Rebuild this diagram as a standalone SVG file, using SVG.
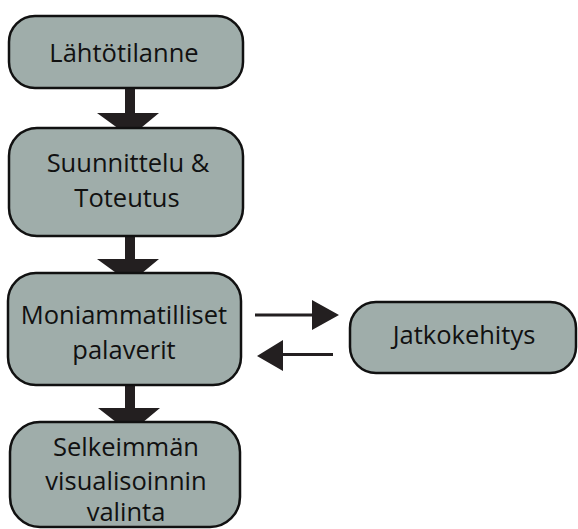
<svg xmlns="http://www.w3.org/2000/svg" width="578" height="529" viewBox="0 0 578 529">
<style>
.box{fill:#9fadaa;stroke:#111;stroke-width:2.5}
.t{font-family:"Open Sans","Noto Sans",sans-serif;font-size:25.5px;fill:#111;text-anchor:middle}
.ar{fill:#231f20}
</style>
<rect width="578" height="529" fill="#fff"/>
<g id="connectors">
<path class="ar" d="M125,88 H135 V113 H159 L130,137 L97,113 H125 Z"/>
<path class="ar" d="M125,236 H135 V259 H159 L130,283 L97,259 H125 Z"/>
<path class="ar" d="M125,385 H135 V408 H160 L130,433 L98,408 H125 Z"/>
<path class="ar" d="M255,313.5 H312 V300 L339,315 L312,330 V316.5 H255 Z"/>
<path class="ar" d="M333,353 H283 V340 L257,356 L283,371 V356 H333 Z"/>
</g>
<g id="n1"><rect class="box" x="9" y="16" width="234" height="72" rx="26"/><text class="t" x="124" y="62">Lähtötilanne</text></g>
<g id="n2"><rect class="box" x="9" y="128" width="234" height="108" rx="28"/><text class="t" x="128" y="172">Suunnittelu &amp;</text><text class="t" x="127" y="207">Toteutus</text></g>
<g id="n3"><rect class="box" x="8" y="273" width="233" height="112" rx="28"/><text class="t" x="124" y="324">Moniammatilliset</text><text class="t" x="124" y="359">palaverit</text></g>
<g id="n4"><rect class="box" x="10" y="422" width="230" height="105" rx="30"/><text class="t" x="126" y="456">Selkeimmän</text><text class="t" x="126" y="490">visualisoinnin</text><text class="t" x="126" y="521">valinta</text></g>
<g id="n5"><rect class="box" x="350" y="302" width="226" height="71" rx="26"/><text class="t" x="464" y="344">Jatkokehitys</text></g>
</svg>
